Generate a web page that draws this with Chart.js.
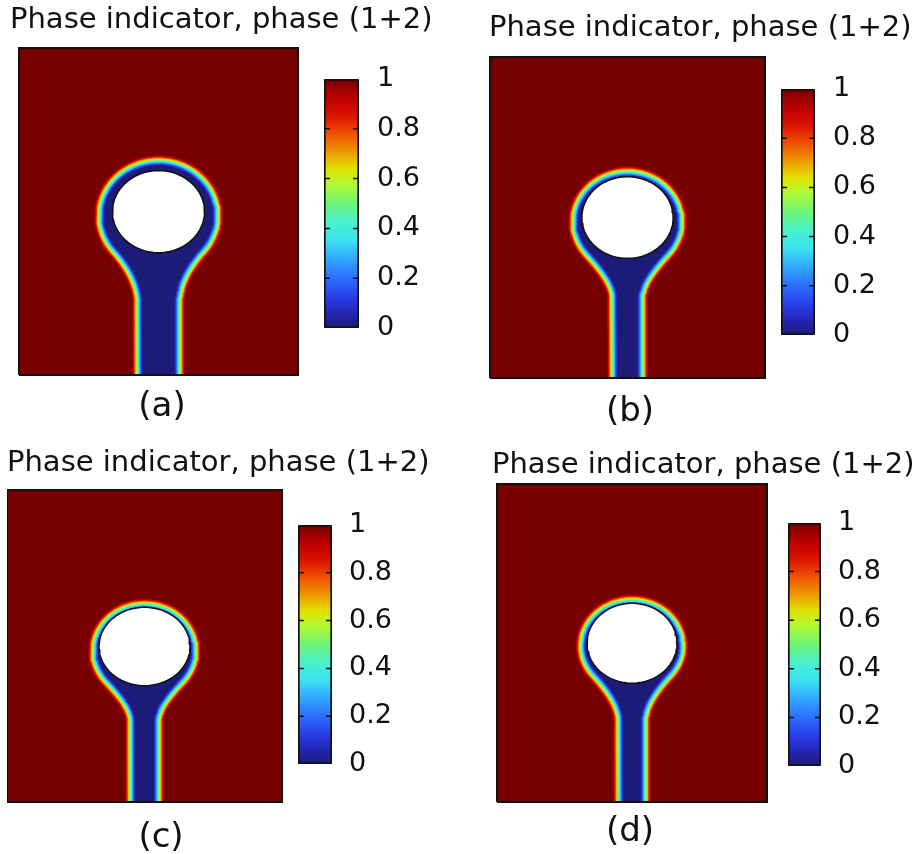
<!DOCTYPE html>
<html>
<head>
<meta charset="utf-8">
<script src="https://cdn.jsdelivr.net/npm/chart.js@4.4.1/dist/chart.umd.min.js"></script>
<style>
  body { margin: 0; background: #fff; width: 916px; height: 854px; position: relative; overflow: hidden; }
  canvas { position: absolute; }
</style>
</head>
<body>
<script>
// ---- data (lengths in mm, domain is 2 mm wide, x = 0 on the channel axis) ----
const panelLabels = ['(a)', '(b)', '(c)', '(d)'];
const titleText = 'Phase indicator, phase (1+2)';
const colorbarTicks = [0, 0.2, 0.4, 0.6, 0.8, 1];

const domainHeight   = [2.344, 2.335, 2.269, 2.356];
// 0.5 contour of the gas finger: rim round the bubble + neck
const rimCenterY     = [1.140, 1.135, 1.098, 1.156];
const rimRadiusX     = [0.430, 0.400, 0.378, 0.383];
const rimRadiusY     = [0.401, 0.371, 0.347, 0.346];
const neckHalfWidth  = [0.154, 0.113, 0.107, 0.104];
const neckFlareStart = [0.502, 0.567, 0.580, 0.585];
// the bubble itself
const bubbleCenterY  = [1.171, 1.167, 1.131, 1.176];
const bubbleRadiusX  = [0.330, 0.332, 0.331, 0.333];
const bubbleRadiusY  = [0.294, 0.297, 0.285, 0.296];

// ---- style ----
const FONT = 'DejaVu Sans';
// COMSOL "Rainbow" colour table
const rainbow = [
  [0.00, [28, 28, 120]], [0.05, [35, 35, 170]], [0.12, [40, 60, 230]], [0.20, [45, 110, 255]],
  [0.28, [50, 170, 255]], [0.35, [60, 225, 240]], [0.42, [70, 240, 210]], [0.50, [110, 245, 120]],
  [0.58, [180, 250, 50]], [0.64, [225, 225, 0]], [0.70, [235, 160, 0]], [0.78, [240, 80, 0]],
  [0.85, [220, 20, 0]], [0.92, [190, 0, 0]], [1.00, [118, 0, 0]]
];
// diffuse interface: offset from the 0.5 contour (px) and phase value
const bandOffsetPx = [4.5, 3.5, 2.5, 1.5, 0.5, -0.5, -1.5, -2.5, -3.5, -4.5, -5.5];
const bandValue    = [0.93, 0.85, 0.75, 0.64, 0.55, 0.45, 0.36, 0.25, 0.15, 0.07, 0.0];
const junctionDeg  = -40;

// pixel layout of each panel
const layout = [
  { titleX: 10,  titleY: 20,  plot: [19, 48, 298, 375],  labelX: 162, labelY: 407, bar: [324, 79, 359, 328], barLabelX: 377 },
  { titleX: 489, titleY: 28,  plot: [490, 57, 765, 378], labelX: 630, labelY: 412, bar: [781, 89, 815, 335], barLabelX: 833 },
  { titleX: 7,   titleY: 463, plot: [7, 490, 282, 802],  labelX: 161, labelY: 838, bar: [298, 525, 332, 764], barLabelX: 349 },
  { titleX: 492, titleY: 465, plot: [497, 484, 767, 802], labelX: 630, labelY: 832, bar: [788, 523, 821, 766], barLabelX: 838 }
];

function phaseColor(v) {
  for (let k = 1; k < rainbow.length; k++) {
    const [v1, c1] = rainbow[k];
    if (v <= v1) {
      const [v0, c0] = rainbow[k - 1];
      const t = (v - v0) / (v1 - v0);
      return 'rgb(' + c0.map((c, j) => Math.round(c + (c1[j] - c) * t)).join(',') + ')';
    }
  }
  return 'rgb(' + rainbow[rainbow.length - 1][1].join(',') + ')';
}

// outline of the finger grown by d (mm)
function fingerOutline(i, d) {
  const w = neckHalfWidth[i] + d, rx = rimRadiusX[i] + d, ry = rimRadiusY[i] + d;
  const cy = rimCenterY[i], ys = neckFlareStart[i];
  const tj = junctionDeg * Math.PI / 180;
  const xj = rx * Math.cos(tj), yj = cy + ry * Math.sin(tj);
  const m = (-rx * Math.sin(tj)) / (ry * Math.cos(tj));
  const right = [{ x: w, y: 0 }];
  for (let k = 0; k <= 20; k++) {
    const t = k / 20, h01 = 3 * t * t - 2 * t * t * t, h11 = t * t * t - t * t;
    right.push({ x: Math.max(w, w + (xj - w) * h01 + m * (yj - ys) * h11), y: ys + (yj - ys) * t });
  }
  for (let k = 1; k <= 40; k++) {
    const a = tj + (Math.PI / 2 - tj) * k / 40;
    right.push({ x: rx * Math.cos(a), y: cy + ry * Math.sin(a) });
  }
  const left = right.slice(0, -1).reverse().map(p => ({ x: -p.x, y: p.y }));
  return right.concat(left);
}

function ellipse(cy, rx, ry) {
  const pts = [];
  for (let k = 0; k <= 90; k++) {
    const a = 2 * Math.PI * k / 90;
    pts.push({ x: rx * Math.cos(a), y: cy + ry * Math.sin(a) });
  }
  return pts;
}

function addCanvas(left, top, w, h) {
  const c = document.createElement('canvas');
  c.width = w; c.height = h;
  c.style.left = left + 'px'; c.style.top = top + 'px';
  c.style.width = w + 'px'; c.style.height = h + 'px';
  document.body.appendChild(c);
  return c;
}

const barTicks = {
  id: 'barTicks',
  afterDatasetsDraw(chart) {
    const { ctx, chartArea: a, scales: { y } } = chart;
    ctx.save();
    ctx.strokeStyle = '#111';
    ctx.lineWidth = 1.5;
    colorbarTicks.slice(1, -1).forEach(v => {
      const py = y.getPixelForValue(v);
      ctx.beginPath();
      ctx.moveTo(a.left, py); ctx.lineTo(a.left + 6, py);
      ctx.moveTo(a.right - 6, py); ctx.lineTo(a.right, py);
      ctx.stroke();
    });
    ctx.restore();
  }
};

layout.forEach((L, i) => {
  const [pl, pt, pr, pb] = L.plot;
  const ppu = (pr - pl) / 2;                 // px per mm
  // area centred on the label and wide enough for the domain
  const half = Math.max(L.labelX - pl, pr - L.labelX);
  const areaLeft = L.labelX - half, areaRight = L.labelX + half;
  const cLeft = Math.min(L.titleX, areaLeft), cTop = L.titleY - 17, cW = 440;
  const labelBox = (L.labelY - pb) + 19;
  const cH = pb + labelBox - cTop;
  const H = domainHeight[i];
  const rect = [{ x: -1, y: 0 }, { x: -1, y: H }, { x: 1, y: H }, { x: 1, y: 0 }, { x: -1, y: 0 }];

  const datasets = [];
  datasets.push({ data: rect, fill: 'shape', backgroundColor: phaseColor(1), borderColor: 'rgba(0,0,0,0)', order: 100 });
  bandOffsetPx.forEach((off, k) => {
    datasets.push({
      data: fingerOutline(i, off / ppu),
      fill: 'shape', backgroundColor: phaseColor(bandValue[k]), borderColor: 'rgba(0,0,0,0)', order: 50 - k
    });
  });
  datasets.push({
    data: ellipse(bubbleCenterY[i], bubbleRadiusX[i], bubbleRadiusY[i]),
    fill: 'shape', backgroundColor: '#ffffff', borderColor: '#111', borderWidth: 1.5, order: 2
  });
  datasets.push({ data: rect, fill: false, borderColor: '#111', borderWidth: 2, order: 1 });

  new Chart(addCanvas(cLeft, cTop, cW, cH), {
    type: 'line',
    data: { datasets },
    options: {
      responsive: false, animation: false, events: [],
      layout: { autoPadding: false },
      elements: { point: { radius: 0 }, line: { tension: 0 } },
      datasets: { line: { clip: false } },
      plugins: {
        legend: { display: false }, tooltip: { enabled: false },
        title: {
          display: true, text: titleText, align: 'start', color: '#111',
          font: { family: FONT, size: 29, weight: 'normal', lineHeight: 1 },
          padding: { top: 2.5, bottom: pt - cTop - 31.5 }
        }
      },
      scales: {
        x: {
          type: 'linear',
          min: -1 - (pl - areaLeft) / ppu, max: 1 + (areaRight - pr) / ppu,
          ticks: { display: false }, grid: { display: false, drawTicks: false }, border: { display: false },
          title: { display: true, text: panelLabels[i], color: '#111',
                   font: { family: FONT, size: 34, lineHeight: 1 }, padding: { top: 0, bottom: 2 } },
          afterFit: s => { s.height = labelBox; }
        },
        y: {
          min: 0, max: H,
          ticks: { display: false }, grid: { display: false, drawTicks: false }, border: { display: false },
          afterFit: s => { s.width = areaLeft - cLeft; }
        },
        y2: {
          position: 'right', min: 0, max: 1,
          ticks: { display: false }, grid: { display: false, drawTicks: false }, border: { display: false },
          afterFit: s => { s.width = cLeft + cW - areaRight; }
        }
      }
    }
  });

  // colour bar; padV is larger than half a tick label + its padding, so it sets the area
  const [bl, bt, br, bb] = L.bar;
  const axisW = 80, padV = 42;
  const barH = (bb - bt) + 2 * padV;
  new Chart(addCanvas(bl, bt - padV, (br - bl) + axisW, barH), {
    type: 'bar',
    data: {
      labels: [''],
      datasets: [{
        data: [[0, 1]],
        backgroundColor: c => {
          const a = c.chart.chartArea;
          if (!a) return null;
          const g = c.chart.ctx.createLinearGradient(0, a.bottom, 0, a.top);
          rainbow.forEach(([v]) => g.addColorStop(v, phaseColor(v)));
          return g;
        },
        borderColor: '#111', borderWidth: 2, borderSkipped: false, borderRadius: 2,
        barPercentage: 1, categoryPercentage: 1
      }]
    },
    options: {
      responsive: false, animation: false, events: [],
      layout: { padding: { top: padV, bottom: padV, left: 0, right: 0 } },
      plugins: { legend: { display: false }, tooltip: { enabled: false } },
      scales: {
        x: { display: false },
        y: {
          position: 'right', min: 0, max: 1,
          afterBuildTicks: s => { s.ticks = colorbarTicks.map(v => ({ value: v })); },
          ticks: { padding: L.barLabelX - br, color: '#111', font: { family: FONT, size: 27 },
                   callback: v => String(+v.toFixed(1)) },
          grid: { display: false, drawTicks: false }, border: { display: false },
          afterFit: s => { s.width = axisW; }
        }
      }
    },
    plugins: [barTicks]
  });
});
</script>
</body>
</html>
